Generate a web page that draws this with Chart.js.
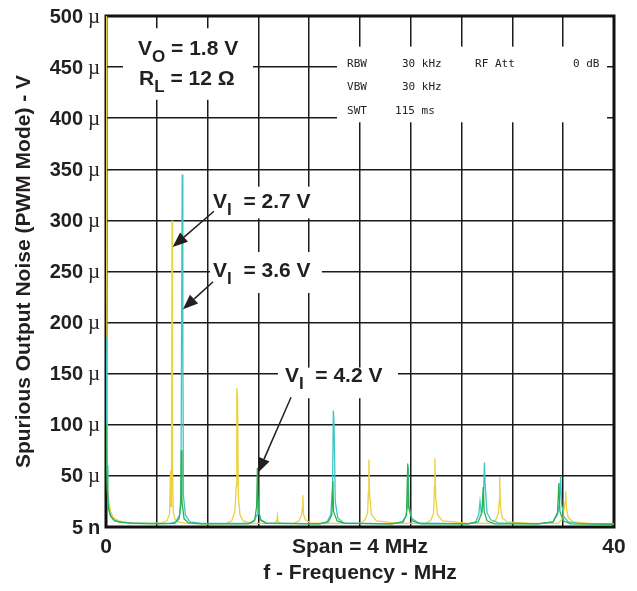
<!DOCTYPE html>
<html>
<head>
<meta charset="utf-8">
<script src="https://cdn.jsdelivr.net/npm/chart.js@4.4.0/dist/chart.umd.min.js"></script>
<style>
  body { margin: 0; background: #fff; }
  #wrap { width: 637px; height: 591px; }
</style>
</head>
<body>
<div id="wrap"><canvas id="noiseChart" width="637" height="591"></canvas></div>
<script>
// spectrum traces, frequency in MHz, noise in µV
// VI = 2.7 V (yellow)
const freq27 = [
  0, 0.04, 0.1, 0.2, 0.35, 0.6, 1.0, 1.6, 2.5, 3.5,
  4.4, 4.8, 5.0, 5.08, 5.12, 5.16, 5.2, 5.24, 5.3, 5.45, 5.8, 6.5,
  8.0, 9.5, 9.9, 10.15, 10.25, 10.3, 10.36, 10.42, 10.55, 10.8, 11.5,
  13.2, 13.45, 13.5, 13.55, 13.8,
  14.8, 15.2, 15.4, 15.46, 15.5, 15.56, 15.7, 16.1,
  17.5, 20.0, 20.4, 20.6, 20.66, 20.7, 20.76, 20.9, 21.3,
  23.0, 25.2, 25.6, 25.8, 25.86, 25.9, 25.96, 26.1, 26.5,
  28.5, 30.3, 30.7, 30.9, 30.96, 31.0, 31.06, 31.2, 31.6,
  33.5, 35.6, 35.95, 36.1, 36.16, 36.2, 36.26, 36.4, 36.8, 38.0, 40
];
const noise27 = [
  520, 300, 60, 28, 15, 9, 6, 4.5, 4, 3.5,
  4, 6, 12, 55, 20, 60, 300, 60, 14, 7, 4.5, 3.5,
  3, 3.5, 6, 15, 40, 136, 125, 30, 12, 6, 3.5,
  3.5, 6, 11, 5, 3.5,
  3.5, 6, 12, 18, 31, 12, 7, 4,
  3.5, 3.5, 7, 14, 35, 66, 30, 12, 6,
  3.5, 3.5, 7, 14, 40, 67, 30, 12, 6,
  3.5, 3.5, 7, 14, 25, 49, 20, 9, 5,
  3.5, 3.5, 8, 20, 25, 35, 18, 9, 5, 3.5, 3
];

// VI = 3.6 V (cyan)
const freq36 = [
  0, 0.03, 0.08, 0.15, 0.3, 0.6, 1.0, 2.0, 3.5, 5.0,
  5.5, 5.8, 5.9, 5.95, 6.0, 6.05, 6.1, 6.25, 6.6, 7.5,
  11.3, 11.7, 11.9, 11.96, 12.02, 12.2, 12.6,
  16.8, 17.4, 17.7, 17.84, 17.9, 17.96, 18.05, 18.25, 18.7,
  22.5, 23.3, 23.6, 23.74, 23.8, 23.86, 24.1, 24.6,
  28.5, 29.1, 29.35, 29.45, 29.55, 29.7, 29.8, 29.86, 30.0, 30.3, 30.9,
  34.0, 35.2, 35.55, 35.72, 35.8, 35.88, 36.05, 36.4, 37.2, 40
];
const noise36 = [
  185, 150, 60, 25, 12, 7, 5, 4, 3.5, 3.5,
  5, 12, 30, 190, 345, 180, 30, 12, 5, 3.5,
  3.5, 7, 12, 29, 15, 7, 4,
  3, 5, 12, 40, 114, 100, 25, 9, 4,
  3, 5, 10, 20, 59, 20, 8, 4,
  3, 5, 12, 25, 14, 20, 63, 40, 14, 7, 4,
  3, 5, 12, 25, 49, 22, 10, 5, 3.5, 3
];

// VI = 4.2 V (green)
const freq42 = [
  0, 0.03, 0.1, 0.2, 0.4, 0.7, 1.2, 2.0, 4.0,
  5.4, 5.75, 5.88, 5.93, 5.98, 6.15, 6.5, 7.5,
  11.2, 11.7, 11.86, 11.92, 11.98, 12.15, 12.6,
  16.8, 17.5, 17.78, 17.86, 17.92, 18.2, 18.8,
  22.5, 23.4, 23.66, 23.76, 23.82, 24.1, 24.8,
  28.5, 29.3, 29.6, 29.7, 29.78, 30.0, 30.6,
  34.0, 35.2, 35.55, 35.66, 35.74, 36.0, 36.6, 40
];
const noise42 = [
  100, 80, 35, 18, 10, 6, 4.5, 3.5, 3,
  3.5, 8, 20, 75, 25, 8, 4, 3,
  3, 6, 20, 58, 20, 7, 3.5,
  3, 5, 12, 45, 15, 6, 3.5,
  3, 5, 12, 62, 20, 6, 3,
  3, 5, 14, 39, 15, 6, 3,
  3, 5, 14, 43, 15, 6, 3, 2.5
];

// axis ticks
const xTickVals = [0, 20, 40];
const xTickText = ['0', 'Span = 4 MHz', '40'];
const yTickVals = [0, 50, 100, 150, 200, 250, 300, 350, 400, 450, 500];
const yTickText = ['5 n', '50 µ', '100 µ', '150 µ', '200 µ', '250 µ', '300 µ', '350 µ', '400 µ', '450 µ', '500 µ'];

const FONT = "'Liberation Sans', Arial, sans-serif";
const INK = '#231f20';

function toPoints(fs, vs) {
  return fs.map((f, i) => ({ x: f, y: vs[i] }));
}

// annotation anchors in data units (MHz, µV)
const boxes = [
  [1.34, 11.57, 488, 418],   // VO / RL
  [8.19, 17.0, 333, 302],    // 2.7 V
  [8.19, 17.0, 269, 229],    // 3.6 V
  [13.54, 22.99, 156, 126],  // 4.2 V
  [18.19, 39.45, 470, 396]   // analyzer settings
];
const arrows = [
  [8.5, 309, 5.25, 274],
  [8.43, 240, 6.06, 213],
  [14.57, 127, 11.97, 53]
];
const subLabels = [
  [2.52, 462, 'V', 'O', ' = 1.8 V'],
  [2.6, 432, 'R', 'L', ' = 12 Ω'],
  [8.43, 312, 'V', 'I', '  = 2.7 V'],
  [8.43, 245, 'V', 'I', '  = 3.6 V'],
  [14.09, 142, 'V', 'I', '  = 4.2 V']
];
const specRows = [
  [450, [[18.98, 'RBW'], [23.3, '30 kHz'], [29.06, 'RF Att'], [36.77, '0 dB']]],
  [428, [[18.98, 'VBW'], [23.3, '30 kHz']]],
  [404, [[18.98, 'SWT'], [22.76, '115 ms']]]
];

function drawArrow(ctx, x0, y0, x1, y1) {
  const a = Math.atan2(y1 - y0, x1 - x0);
  const L = 15, W = 6;
  const bx = x1 - L * Math.cos(a), by = y1 - L * Math.sin(a);
  ctx.beginPath();
  ctx.moveTo(x0, y0);
  ctx.lineTo(bx, by);
  ctx.stroke();
  ctx.beginPath();
  ctx.moveTo(x1, y1);
  ctx.lineTo(bx + W * Math.sin(a), by - W * Math.cos(a));
  ctx.lineTo(bx - W * Math.sin(a), by + W * Math.cos(a));
  ctx.closePath();
  ctx.fill();
}

const notes = {
  id: 'notes',
  beforeDatasetsDraw(chart) {
    const { ctx, chartArea: a, scales: { x, y } } = chart;
    ctx.save();
    ctx.fillStyle = '#fff';
    boxes.forEach(b => {
      const x1 = x.getPixelForValue(b[0]), x2 = x.getPixelForValue(b[1]);
      const y1 = y.getPixelForValue(b[2]), y2 = y.getPixelForValue(b[3]);
      ctx.fillRect(x1, y1, x2 - x1, y2 - y1);
    });
    ctx.strokeStyle = '#111';
    ctx.lineWidth = 3;
    ctx.strokeRect(a.left, a.top, a.right - a.left, a.bottom - a.top);
    ctx.restore();
  },
  afterDatasetsDraw(chart) {
    const { ctx, chartArea: a, scales: { x, y } } = chart;
    ctx.save();
    ctx.fillStyle = INK;
    ctx.strokeStyle = INK;
    ctx.lineWidth = 1.5;
    arrows.forEach(r => drawArrow(ctx, x.getPixelForValue(r[0]), y.getPixelForValue(r[1]),
                                  x.getPixelForValue(r[2]), y.getPixelForValue(r[3])));

    ctx.textBaseline = 'alphabetic';
    ctx.textAlign = 'left';
    subLabels.forEach(s => {
      let px = x.getPixelForValue(s[0]);
      const py = y.getPixelForValue(s[1]);
      ctx.font = 'bold 21px ' + FONT;
      ctx.fillText(s[2], px, py);
      px += ctx.measureText(s[2]).width;
      ctx.font = 'bold 17px ' + FONT;
      ctx.fillText(s[3], px, py + 7);
      px += ctx.measureText(s[3]).width;
      ctx.font = 'bold 21px ' + FONT;
      ctx.fillText(s[4], px, py);
    });

    ctx.font = "11px 'DejaVu Sans Mono', monospace";
    ctx.fillStyle = '#222';
    specRows.forEach(row => {
      const py = y.getPixelForValue(row[0]);
      row[1].forEach(c => ctx.fillText(c[1], x.getPixelForValue(c[0]), py));
    });

    // y tick labels: number in bold sans, unit prefix µ in serif
    ctx.fillStyle = INK;
    ctx.textBaseline = 'middle';
    yTickVals.forEach((v, i) => {
      const py = y.getPixelForValue(v) + 1;
      const [num, unit] = yTickText[i].split(' ');
      ctx.font = 'bold 20px ' + FONT;
      ctx.textAlign = 'right';
      ctx.fillText(num, a.left - 23, py);
      ctx.textAlign = 'left';
      ctx.font = unit === 'µ' ? "21px 'Liberation Serif', serif" : 'bold 20px ' + FONT;
      ctx.fillText(unit, a.left - 18, py);
    });
    ctx.restore();
  }
};

const gridStyle = { color: '#1a1a1a', lineWidth: 1.5, drawTicks: false };

new Chart(document.getElementById('noiseChart'), {
  type: 'scatter',
  data: {
    datasets: [
      { label: 'VI = 4.2 V', data: toPoints(freq42, noise42), borderColor: '#2eb050', order: 1 },
      { label: 'VI = 3.6 V', data: toPoints(freq36, noise36), borderColor: '#3ec6c6', order: 2 },
      { label: 'VI = 2.7 V', data: toPoints(freq27, noise27), borderColor: '#ecd03c', order: 3 }
    ].map(d => Object.assign(d, { showLine: true, pointRadius: 0, borderWidth: 1.3, tension: 0 }))
  },
  options: {
    responsive: false,
    animation: false,
    devicePixelRatio: 1,
    layout: { padding: { top: 16, right: 23, left: 0, bottom: 0 } },
    plugins: { legend: { display: false }, tooltip: { enabled: false } },
    scales: {
      x: {
        type: 'linear', min: 0, max: 40,
        ticks: {
          stepSize: 4, autoSkip: false, maxRotation: 0, padding: 8, color: INK,
          font: { family: FONT, size: 21, weight: 'bold' },
          callback: v => { const i = xTickVals.indexOf(v); return i < 0 ? '' : xTickText[i]; }
        },
        grid: gridStyle,
        border: { display: false },
        title: {
          display: true, text: 'f - Frequency - MHz', color: INK,
          font: { family: FONT, size: 21, weight: 'bold' }, padding: { top: 0, bottom: 5 }
        },
        afterFit: s => { s.height = 64; }
      },
      y: {
        min: 0, max: 500,
        ticks: { stepSize: 50, display: false },
        grid: gridStyle,
        border: { display: false },
        title: {
          display: true, text: 'Spurious Output Noise (PWM Mode) - V', color: INK,
          font: { family: FONT, size: 21, weight: 'bold' }, padding: { top: 12, bottom: 0 }
        },
        afterFit: s => { s.width = 106; }
      }
    }
  },
  plugins: [notes]
});
</script>
</body>
</html>
